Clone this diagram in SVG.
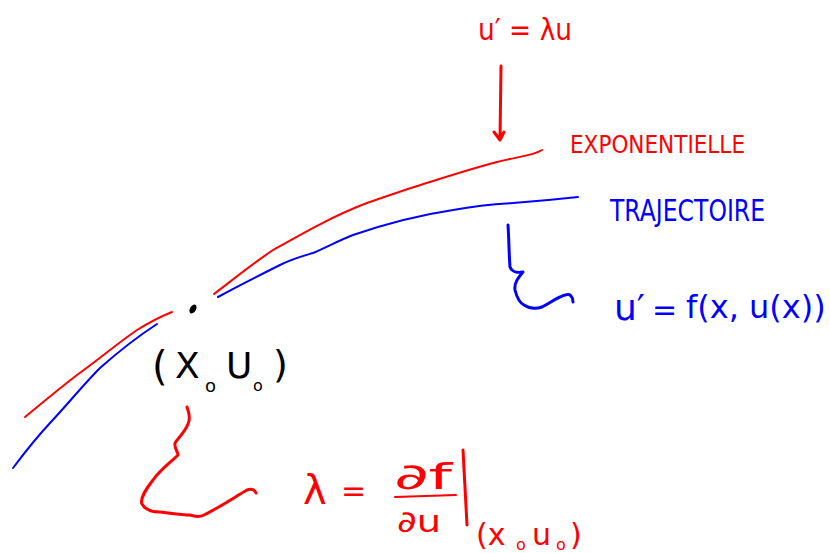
<svg xmlns="http://www.w3.org/2000/svg" width="830" height="553" viewBox="0 0 830 553">
<defs>
<style>
.r{stroke:#ff0000;fill:none;stroke-width:2;stroke-linecap:round;stroke-linejoin:round}
.b{stroke:#0000ff;fill:none;stroke-width:2;stroke-linecap:round;stroke-linejoin:round}
.rt{fill:#ff0000;font-family:"DejaVu Sans",sans-serif}
.bt{fill:#0000ff;font-family:"DejaVu Sans",sans-serif}
.kt{fill:#000;font-family:"DejaVu Sans",sans-serif}
.thick{stroke-width:3}
</style>
</defs>
<rect width="830" height="553" fill="#fff"/>
<g id="connectors">
  <path class="r" d="M214,294 C235,278 255,262 273,250 C305,232 335,215 367,203 C390,195 410,188 430,182 C455,174 478,167 497,162 C515,157 533,156 542,150"/>
  <path class="b" d="M218,297 C240,285 260,275 280,265 C292,259 303,256 313,253 C327,247 340,240 353,235 C385,224 420,215 453,210 C475,206 495,204 513,203 C540,201 560,199 578,197"/>
  <path class="r" d="M25,417 C42,403 60,388 77,375 C98,360 118,343 137,330 C150,322 162,316 172,312"/>
  <path class="b" d="M13,468 C25,452 37,437 50,423 C67,405 83,385 100,368 C118,352 137,337 157,324"/>
  <path class="r thick" d="M501,66 L500,140 M494,132 L500,140 L504,132"/>
  <path class="r thick" d="M187,407 C190,415 190,420 188,424 C185,432 178,438 175,443 C174,448 178,452 178,455 C170,463 160,470 153,480 C145,490 140,500 142,504 C146,511 153,512 160,512 C170,513 180,515 190,515 C196,517 200,517 204,515 C220,507 235,497 247,490 C252,488 255,490 256,493"/>
  <path class="b thick" d="M508,225 C509,240 509,255 510,267 C512,272 518,273 523,272 C518,278 514,283 515,290 C517,298 520,303 524,305 C530,309 536,309 542,307 C550,303 555,299 560,297 C566,294 570,294 571,296 C573,298 573,300 573,302"/>
</g>
<g id="top-eq">
  <text class="rt" x="478" y="40" font-size="30" textLength="94" lengthAdjust="spacingAndGlyphs">u′ = λu</text>
</g>
<g id="exp-label">
  <text class="rt" x="570" y="153" font-size="25" textLength="175" lengthAdjust="spacingAndGlyphs">EXPONENTIELLE</text>
</g>
<g id="traj-label">
  <text class="bt" x="610" y="221" font-size="30" textLength="155" lengthAdjust="spacingAndGlyphs">TRAJECTOIRE</text>
</g>
<g id="traj-eq">
  <text class="bt" x="614" y="320" font-size="36">u′</text>
  <text class="bt" x="652" y="320" font-size="30">=</text>
  <text class="bt" x="686" y="318" font-size="32">f(x, u(x))</text>
</g>
<g id="point">
  <ellipse cx="193" cy="309" rx="3" ry="5" transform="rotate(30 193 309)" fill="#000"/>
</g>
<g id="point-label">
  <text class="kt" font-size="40"><tspan x="152" y="380">(</tspan><tspan x="175" y="378" font-size="36">X</tspan><tspan x="205" y="392" font-size="18">o</tspan><tspan x="226" y="378" font-size="36">U</tspan><tspan x="253" y="391" font-size="16">o</tspan><tspan x="273" y="377" font-size="38">)</tspan></text>
</g>
<g id="lambda-eq">
  <text class="rt" x="303" y="504" font-size="40">λ</text>
  <text class="rt" x="341" y="501" font-size="30">=</text>
  <text class="rt" x="394" y="489" font-size="36" textLength="58" lengthAdjust="spacingAndGlyphs">∂f</text>
  <path class="r" d="M395,497 L456,495"/>
  <text class="rt" x="397" y="532" font-size="30" textLength="44" lengthAdjust="spacingAndGlyphs">∂u</text>
  <path class="r thick" d="M463,450 L467,525"/>
  <text class="rt" font-size="30"><tspan x="476" y="545">(x</tspan><tspan x="516" y="550" font-size="16">o</tspan><tspan x="532" y="545">u</tspan><tspan x="556" y="550" font-size="16">o</tspan><tspan x="570" y="545">)</tspan></text>
</g>
</svg>
